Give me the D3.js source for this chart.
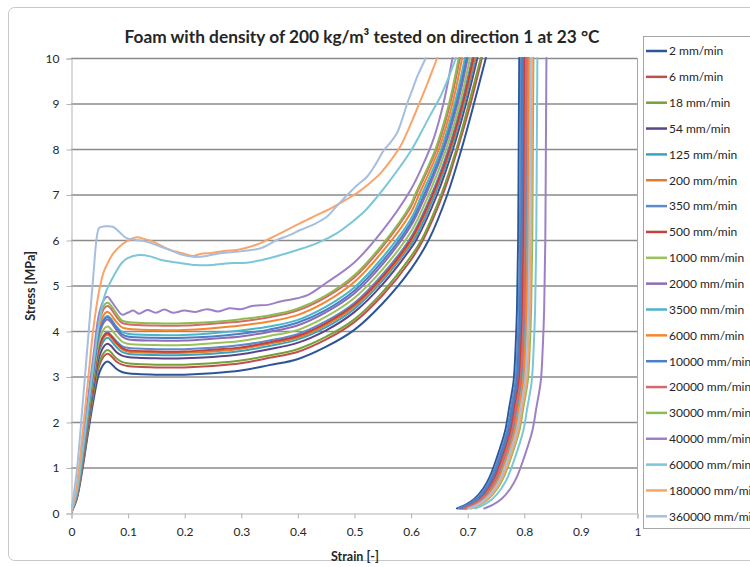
<!DOCTYPE html>
<html>
<head>
<meta charset="utf-8">
<script src="https://cdn.jsdelivr.net/npm/d3@7"></script>
<style>
  body { margin: 0; background: #fff; }
  svg text { font-family: Lato, "Open Sans", "DejaVu Sans", sans-serif; fill: #262626; }
</style>
</head>
<body>
<svg id="chart" width="750" height="567"></svg>
<script>
// Crosshead speeds (legend order)
const rates = ["2 mm/min", "6 mm/min", "18 mm/min", "54 mm/min", "125 mm/min", "200 mm/min",
  "350 mm/min", "500 mm/min", "1000 mm/min", "2000 mm/min", "3500 mm/min", "6000 mm/min",
  "10000 mm/min", "20000 mm/min", "30000 mm/min", "40000 mm/min", "60000 mm/min",
  "180000 mm/min", "360000 mm/min"];

// Series colours
const palette = ["#2c5597", "#c0504d", "#76a03a", "#5b4488", "#3ba3bc", "#e07c2f",
  "#5b8bc9", "#c3413d", "#9bc25a", "#8e6cb5", "#4bb5c9", "#f38630",
  "#4a7ec5", "#d46a6a", "#8dbb4f", "#9d80c6", "#7cc6da", "#f9a46b", "#a6bee0"];

// Loading branch, [strain, stress MPa] per speed
const loadCurves = [
  [[0,0],[0.01,0.3],[0.02,0.95],[0.03,1.75],[0.04,2.5],[0.05,3.08],[0.06,3.3],[0.065,3.33],[0.07,3.29],[0.08,3.17],[0.09,3.1],[0.1,3.07],[0.15,3.04],[0.2,3.04],[0.25,3.07],[0.3,3.13],[0.35,3.25],[0.4,3.38],[0.45,3.65],[0.5,4.02],[0.55,4.6],[0.6,5.35],[0.632,6.0],[0.665,7.0],[0.69,8.0],[0.712,9.0],[0.733,10]],
  [[0,0],[0.01,0.32],[0.02,1.0],[0.03,1.84],[0.04,2.62],[0.05,3.24],[0.06,3.47],[0.065,3.5],[0.07,3.46],[0.08,3.33],[0.09,3.26],[0.1,3.23],[0.15,3.2],[0.2,3.2],[0.25,3.23],[0.3,3.29],[0.35,3.41],[0.4,3.54],[0.45,3.81],[0.5,4.19],[0.55,4.78],[0.6,5.55],[0.622,6.0],[0.657,7.0],[0.683,8.0],[0.706,9.0],[0.726,10]],
  [[0,0],[0.01,0.34],[0.02,1.03],[0.03,1.88],[0.04,2.68],[0.05,3.31],[0.06,3.55],[0.065,3.58],[0.07,3.54],[0.08,3.4],[0.09,3.32],[0.1,3.29],[0.15,3.26],[0.2,3.26],[0.25,3.29],[0.3,3.35],[0.35,3.46],[0.4,3.6],[0.45,3.87],[0.5,4.25],[0.55,4.85],[0.6,5.63],[0.619,6.0],[0.654,7.0],[0.681,8.0],[0.703,9.0],[0.724,10]],
  [[0,0],[0.01,0.36],[0.02,1.07],[0.03,1.96],[0.04,2.78],[0.05,3.44],[0.06,3.69],[0.065,3.72],[0.07,3.68],[0.08,3.54],[0.09,3.46],[0.1,3.43],[0.15,3.4],[0.2,3.4],[0.25,3.43],[0.3,3.49],[0.35,3.6],[0.4,3.74],[0.45,4.01],[0.5,4.41],[0.55,5.02],[0.6,5.81],[0.61,6.0],[0.647,7.0],[0.675,8.0],[0.698,9.0],[0.718,10]],
  [[0,0],[0.01,0.37],[0.02,1.11],[0.03,2.02],[0.04,2.87],[0.05,3.56],[0.06,3.82],[0.065,3.85],[0.07,3.8],[0.08,3.65],[0.09,3.54],[0.1,3.5],[0.15,3.47],[0.2,3.47],[0.25,3.5],[0.3,3.56],[0.35,3.67],[0.4,3.81],[0.45,4.08],[0.5,4.48],[0.55,5.1],[0.6,5.89],[0.606,6.0],[0.643,7.0],[0.672,8.0],[0.695,9.0],[0.715,10]],
  [[0,0],[0.01,0.38],[0.02,1.14],[0.03,2.06],[0.04,2.92],[0.05,3.63],[0.06,3.89],[0.065,3.92],[0.07,3.87],[0.08,3.72],[0.09,3.6],[0.1,3.55],[0.15,3.52],[0.2,3.52],[0.25,3.55],[0.3,3.61],[0.35,3.72],[0.4,3.85],[0.45,4.13],[0.5,4.53],[0.55,5.15],[0.6,5.95],[0.64,7.0],[0.67,8.0],[0.693,9.0],[0.713,10]],
  [[0,0],[0.01,0.39],[0.02,1.15],[0.03,2.09],[0.04,2.95],[0.05,3.67],[0.06,3.94],[0.065,3.97],[0.07,3.92],[0.08,3.78],[0.09,3.67],[0.1,3.63],[0.15,3.6],[0.2,3.6],[0.25,3.63],[0.3,3.69],[0.35,3.79],[0.4,3.93],[0.45,4.21],[0.5,4.61],[0.55,5.24],[0.6,6.05],[0.637,7.0],[0.667,8.0],[0.69,9.0],[0.709,10]],
  [[0,0],[0.01,0.39],[0.02,1.15],[0.03,2.08],[0.04,2.94],[0.05,3.66],[0.06,3.92],[0.065,3.95],[0.07,3.9],[0.08,3.75],[0.09,3.63],[0.1,3.58],[0.15,3.55],[0.2,3.55],[0.25,3.59],[0.3,3.64],[0.35,3.75],[0.4,3.89],[0.45,4.17],[0.5,4.57],[0.55,5.19],[0.6,6.0],[0.639,7.0],[0.669,8.0],[0.692,9.0],[0.711,10]],
  [[0,0],[0.01,0.41],[0.02,1.19],[0.03,2.16],[0.04,3.04],[0.05,3.8],[0.06,4.07],[0.065,4.1],[0.07,4.05],[0.08,3.9],[0.09,3.77],[0.1,3.72],[0.15,3.69],[0.2,3.69],[0.25,3.73],[0.3,3.78],[0.35,3.89],[0.4,4.02],[0.45,4.31],[0.5,4.72],[0.55,5.35],[0.6,6.17],[0.632,7.0],[0.663,8.0],[0.687,9.0],[0.705,10]],
  [[0,0],[0.01,0.43],[0.02,1.24],[0.03,2.24],[0.04,3.15],[0.05,3.94],[0.06,4.22],[0.065,4.25],[0.07,4.2],[0.08,4.03],[0.09,3.88],[0.1,3.82],[0.15,3.79],[0.2,3.79],[0.25,3.83],[0.3,3.88],[0.35,3.98],[0.4,4.12],[0.45,4.41],[0.5,4.82],[0.55,5.46],[0.6,6.3],[0.627,7.0],[0.659,8.0],[0.683,9.0],[0.701,10]],
  [[0,0],[0.01,0.44],[0.02,1.27],[0.03,2.28],[0.04,3.2],[0.05,4.01],[0.06,4.3],[0.065,4.33],[0.07,4.28],[0.08,4.1],[0.09,3.98],[0.1,3.94],[0.15,3.91],[0.2,3.91],[0.25,3.95],[0.3,4.01],[0.35,4.1],[0.4,4.24],[0.45,4.53],[0.5,4.95],[0.55,5.61],[0.6,6.45],[0.62,7.0],[0.654,8.0],[0.678,9.0],[0.696,10]],
  [[0,0],[0.01,0.45],[0.02,1.3],[0.03,2.33],[0.04,3.27],[0.05,4.09],[0.06,4.39],[0.065,4.42],[0.07,4.37],[0.08,4.2],[0.09,4.08],[0.1,4.05],[0.15,4.02],[0.2,4.02],[0.25,4.06],[0.3,4.12],[0.35,4.21],[0.4,4.35],[0.45,4.64],[0.5,5.07],[0.55,5.74],[0.6,6.59],[0.615,7.0],[0.65,8.0],[0.674,9.0],[0.691,10]],
  [[0,0],[0.01,0.44],[0.02,1.26],[0.03,2.26],[0.04,3.18],[0.05,3.98],[0.06,4.27],[0.065,4.3],[0.07,4.25],[0.08,4.08],[0.09,3.93],[0.1,3.88],[0.15,3.85],[0.2,3.85],[0.25,3.88],[0.3,3.94],[0.35,4.03],[0.4,4.18],[0.45,4.46],[0.5,4.88],[0.55,5.53],[0.6,6.37],[0.624,7.0],[0.657,8.0],[0.681,9.0],[0.699,10]],
  [[0,0],[0.01,0.47],[0.02,1.34],[0.03,2.39],[0.04,3.36],[0.05,4.22],[0.06,4.52],[0.065,4.55],[0.07,4.5],[0.08,4.32],[0.09,4.18],[0.1,4.15],[0.15,4.12],[0.2,4.12],[0.25,4.16],[0.3,4.21],[0.35,4.3],[0.4,4.45],[0.45,4.74],[0.5,5.17],[0.55,5.85],[0.6,6.72],[0.61,7.0],[0.646,8.0],[0.67,9.0],[0.687,10]],
  [[0,0],[0.01,0.48],[0.02,1.36],[0.03,2.43],[0.04,3.41],[0.05,4.28],[0.06,4.59],[0.065,4.62],[0.07,4.57],[0.08,4.39],[0.09,4.23],[0.1,4.2],[0.15,4.17],[0.2,4.17],[0.25,4.2],[0.3,4.26],[0.35,4.34],[0.4,4.49],[0.45,4.78],[0.5,5.22],[0.55,5.9],[0.6,6.77],[0.608,7.0],[0.644,8.0],[0.668,9.0],[0.685,10]],
  [[0,0],[0.01,0.5],[0.02,1.4],[0.03,2.5],[0.04,3.5],[0.05,4.4],[0.06,4.72],[0.065,4.75],[0.07,4.68],[0.08,4.5],[0.09,4.36],[0.1,4.4],[0.11,4.45],[0.12,4.38],[0.135,4.46],[0.15,4.4],[0.165,4.47],[0.18,4.4],[0.2,4.45],[0.22,4.42],[0.24,4.48],[0.26,4.43],[0.28,4.5],[0.3,4.48],[0.32,4.55],[0.35,4.58],[0.37,4.65],[0.4,4.72],[0.42,4.8],[0.45,5.05],[0.5,5.5],[0.55,6.2],[0.6,7.1],[0.62,7.6],[0.64,8.2],[0.658,9.0],[0.674,10]],
  [[0,0],[0.01,0.45],[0.02,1.3],[0.03,2.3],[0.04,3.3],[0.05,4.2],[0.06,4.8],[0.075,5.2],[0.09,5.5],[0.1,5.6],[0.12,5.67],[0.14,5.64],[0.16,5.56],[0.19,5.5],[0.22,5.45],[0.25,5.45],[0.28,5.49],[0.31,5.5],[0.35,5.6],[0.4,5.78],[0.435,5.93],[0.47,6.15],[0.494,6.37],[0.52,6.65],[0.541,6.95],[0.56,7.25],[0.582,7.62],[0.6,7.95],[0.618,8.35],[0.635,8.75],[0.653,9.16],[0.668,9.6],[0.68,10]],
  [[0,0],[0.01,0.6],[0.02,1.7],[0.03,2.9],[0.04,4.1],[0.05,4.9],[0.057,5.27],[0.065,5.5],[0.075,5.71],[0.09,5.9],[0.1,5.98],[0.116,6.06],[0.13,6.02],[0.146,5.96],[0.16,5.87],[0.175,5.78],[0.2,5.7],[0.216,5.65],[0.23,5.7],[0.246,5.71],[0.27,5.76],[0.293,5.78],[0.31,5.83],[0.335,5.93],[0.346,6.0],[0.375,6.18],[0.405,6.37],[0.435,6.55],[0.464,6.73],[0.485,6.88],[0.505,7.03],[0.525,7.22],[0.547,7.47],[0.565,7.75],[0.582,8.06],[0.595,8.4],[0.606,8.72],[0.618,9.08],[0.63,9.45],[0.647,10]],
  [[0,0],[0.01,0.9],[0.02,2.3],[0.03,3.8],[0.04,5.3],[0.046,6.1],[0.05,6.27],[0.06,6.3],[0.074,6.29],[0.085,6.18],[0.098,6.04],[0.115,6.0],[0.134,5.96],[0.155,5.87],[0.175,5.78],[0.195,5.68],[0.216,5.63],[0.24,5.65],[0.264,5.71],[0.3,5.75],[0.335,5.82],[0.364,6.0],[0.385,6.1],[0.405,6.22],[0.43,6.35],[0.452,6.51],[0.47,6.75],[0.488,6.99],[0.505,7.2],[0.523,7.39],[0.54,7.7],[0.553,7.98],[0.565,8.15],[0.576,8.35],[0.585,8.65],[0.594,9.0],[0.603,9.3],[0.612,9.6],[0.627,10]]
];

// Unloading branch: stress levels (MPa) and the strain each speed reaches at them
const unloadStress = [10, 8, 6, 4.5, 3.5, 2.9, 2.3, 1.8, 1.2, 0.8, 0.55, 0.3, 0.18, 0.1];
const unloadStrain = [
  [0.792,0.791,0.790,0.788,0.785,0.782,0.774,0.767,0.752,0.740,0.729,0.712,0.697,0.682],
  [0.800,0.799,0.798,0.796,0.793,0.790,0.782,0.775,0.760,0.748,0.737,0.720,0.705,0.690],
  [0.803,0.802,0.801,0.799,0.796,0.793,0.785,0.778,0.763,0.751,0.740,0.723,0.708,0.693],
  [0.797,0.796,0.795,0.793,0.790,0.787,0.779,0.772,0.757,0.745,0.734,0.717,0.702,0.687],
  [0.806,0.805,0.804,0.802,0.799,0.796,0.788,0.781,0.766,0.754,0.743,0.726,0.711,0.696],
  [0.805,0.804,0.803,0.801,0.798,0.795,0.787,0.780,0.765,0.753,0.742,0.725,0.710,0.695],
  [0.795,0.794,0.793,0.791,0.788,0.785,0.777,0.770,0.755,0.743,0.732,0.715,0.700,0.685],
  [0.802,0.801,0.800,0.798,0.795,0.792,0.784,0.777,0.762,0.750,0.739,0.722,0.707,0.692],
  [0.810,0.809,0.808,0.806,0.803,0.800,0.792,0.785,0.770,0.758,0.747,0.730,0.715,0.700],
  [0.807,0.806,0.805,0.803,0.800,0.797,0.789,0.782,0.767,0.755,0.744,0.727,0.712,0.697],
  [0.808,0.807,0.806,0.804,0.801,0.798,0.790,0.783,0.768,0.756,0.745,0.728,0.713,0.698],
  [0.809,0.808,0.807,0.805,0.802,0.799,0.791,0.784,0.769,0.757,0.746,0.729,0.714,0.699],
  [0.798,0.797,0.796,0.794,0.791,0.788,0.780,0.773,0.758,0.746,0.735,0.718,0.703,0.688],
  [0.804,0.803,0.802,0.800,0.797,0.794,0.786,0.779,0.764,0.752,0.741,0.724,0.709,0.694],
  [0.817,0.816,0.815,0.813,0.810,0.807,0.799,0.792,0.777,0.765,0.754,0.737,0.722,0.707],
  [0.840,0.839,0.838,0.836,0.833,0.830,0.822,0.815,0.800,0.788,0.777,0.760,0.745,0.730],
  [0.824,0.823,0.822,0.820,0.817,0.814,0.806,0.799,0.784,0.772,0.761,0.744,0.729,0.714],
  [0.815,0.814,0.813,0.811,0.808,0.805,0.797,0.790,0.775,0.763,0.752,0.735,0.720,0.705],
  [0.812,0.811,0.810,0.808,0.805,0.802,0.794,0.787,0.772,0.760,0.749,0.732,0.717,0.702]
];

// Axis ticks
const xTicks = [0, 0.1, 0.2, 0.3, 0.4, 0.5, 0.6, 0.7, 0.8, 0.9, 1];
const yTicks = [0, 1, 2, 3, 4, 5, 6, 7, 8, 9, 10];

const titleText = "Foam with density of 200 kg/m³ tested on direction 1 at 23 °C";

const svg = d3.select("#chart");
const plot = { left: 71, right: 637, top: 58, bottom: 513 };

const x = d3.scaleLinear().domain([0, 1]).range([plot.left, plot.right]);
const y = d3.scaleLinear().domain([0, 10]).range([plot.bottom, plot.top]);

// Chart frame
svg.append("rect")
  .attr("x", 8.5).attr("y", 7.5).attr("width", 760).attr("height", 553)
  .attr("rx", 6).attr("fill", "#fff").attr("stroke", "#c8c8c8").attr("stroke-width", 1);

// Title
svg.append("text")
  .attr("x", 362).attr("y", 43).attr("text-anchor", "middle")
  .attr("font-size", 17.3).attr("font-weight", "bold")
  .text(titleText);

// Horizontal gridlines
svg.append("g").selectAll("line")
  .data(yTicks.filter(d => d > 0))
  .join("line")
  .attr("x1", plot.left).attr("x2", plot.right)
  .attr("y1", d => y(d) + 0.5).attr("y2", d => y(d) + 0.5)
  .attr("stroke", "#8a8a8a").attr("stroke-width", 1.5);

// Right plot edge
svg.append("line")
  .attr("x1", plot.right + 0.5).attr("x2", plot.right + 0.5)
  .attr("y1", plot.top).attr("y2", plot.bottom)
  .attr("stroke", "#a6a6a6").attr("stroke-width", 1);

// Y axis
const yAxis = d3.axisLeft(y).tickValues(yTicks).tickFormat(d3.format("d")).tickSize(5).tickPadding(7);
const gy = svg.append("g").attr("transform", `translate(${plot.left + 0.5},0.5)`).call(yAxis);
gy.select(".domain").attr("stroke", "#b3b3b3");
gy.selectAll(".tick line").attr("stroke", "#b3b3b3");
gy.selectAll("text").attr("font-size", 12).attr("font-family", "Lato, sans-serif").attr("fill", "#262626");

// X axis
const xAxis = d3.axisBottom(x).tickValues(xTicks).tickFormat(d => d === 0 ? "0" : d === 1 ? "1" : d3.format(".1f")(d)).tickSize(5).tickPadding(9);
const gx = svg.append("g").attr("transform", `translate(0.5,${plot.bottom + 0.5})`).call(xAxis);
gx.select(".domain").attr("stroke", "#b3b3b3");
gx.selectAll(".tick line").attr("stroke", "#b3b3b3");
gx.selectAll("text").attr("font-size", 12).attr("font-family", "Lato, sans-serif").attr("fill", "#262626");

// Axis titles
svg.append("text")
  .attr("x", 355).attr("y", 561).attr("text-anchor", "middle")
  .attr("font-size", 12.5).attr("font-weight", "bold")
  .text("Strain [-]");
svg.append("text")
  .attr("transform", "translate(35,286) rotate(-90)")
  .attr("text-anchor", "middle")
  .attr("font-size", 12.5).attr("font-weight", "bold")
  .text("Stress [MPa]");

// Curves, clipped to the plot area
svg.append("clipPath").attr("id", "plot-clip")
  .append("rect").attr("x", plot.left).attr("y", plot.top - 2)
  .attr("width", plot.right - plot.left).attr("height", plot.bottom - plot.top + 2);

const line = d3.line()
  .x(d => x(d[0])).y(d => y(d[1]))
  .curve(d3.curveCatmullRom.alpha(0.5));

const curves = svg.append("g").attr("clip-path", "url(#plot-clip)");
rates.forEach((rate, i) => {
  const g = curves.append("g").attr("class", "series");
  g.append("path")
    .attr("d", line(loadCurves[i]))
    .attr("fill", "none").attr("stroke", palette[i]).attr("stroke-width", 2)
    .attr("stroke-linejoin", "round").attr("stroke-linecap", "round");
  const unload = unloadStress.map((s, k) => [unloadStrain[i][k], s]);
  g.append("path")
    .attr("d", line(unload))
    .attr("fill", "none").attr("stroke", palette[i]).attr("stroke-width", 2)
    .attr("stroke-linejoin", "round").attr("stroke-linecap", "round");
});

// Legend (its right part runs past the chart edge)
const legend = { x: 643, y: 36, w: 130, h: 492, first: 51, step: 25.85 };
svg.append("rect")
  .attr("x", legend.x + 0.5).attr("y", legend.y + 0.5)
  .attr("width", legend.w).attr("height", legend.h)
  .attr("fill", "#fff").attr("stroke", "#a6a6a6");
const items = svg.append("g").selectAll("g")
  .data(rates)
  .join("g")
  .attr("transform", (d, i) => `translate(${legend.x},${legend.first + i * legend.step})`);
items.append("line")
  .attr("x1", 3).attr("x2", 24).attr("y1", 0).attr("y2", 0)
  .attr("stroke", (d, i) => palette[i]).attr("stroke-width", 2.5);
items.append("text")
  .attr("x", 26).attr("y", 4.3)
  .attr("font-size", 12)
  .text(d => d);
</script>
</body>
</html>
